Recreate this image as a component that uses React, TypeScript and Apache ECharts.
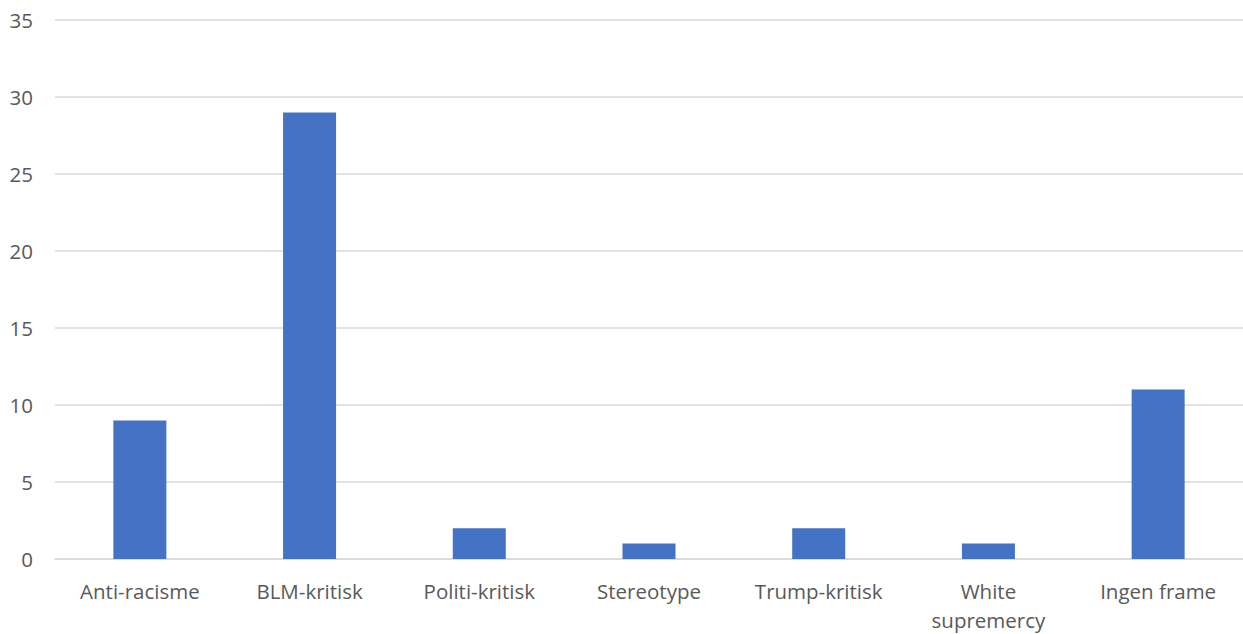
import React, { useEffect, useRef } from "react";
import * as echarts from "echarts";

const categories = ["Anti-racisme", "BLM-kritisk", "Politi-kritisk", "Stereotype", "Trump-kritisk", "White\nsupremercy", "Ingen frame"];
const values = [9, 29, 2, 1, 2, 1, 11];
const yTicks = { min: 0, max: 35, interval: 5 };

export default function App() {
  const ref = useRef<HTMLDivElement>(null);
  useEffect(() => {
    if (!ref.current) return;
    const chart = echarts.init(ref.current, undefined, { renderer: "svg" });
    chart.setOption({
      animation: false,
      backgroundColor: "#ffffff",
      grid: { left: 55, top: 20, width: 1191, height: 542.5, containLabel: false },
      xAxis: {
        type: "category",
        data: categories,
        axisLine: { show: true, lineStyle: { color: "#d9d9d9", width: 1.5 } },
        axisTick: { show: false },
        axisLabel: {
          color: "#595959",
          fontFamily: "'Open Sans', sans-serif",
          fontSize: 20.5,
          lineHeight: 29,
          margin: 17,
          interval: 0,
        },
      },
      yAxis: {
        type: "value",
        min: yTicks.min,
        max: yTicks.max,
        interval: yTicks.interval,
        axisLine: { show: false },
        axisTick: { show: false },
        splitLine: { lineStyle: { color: "#d9d9d9", width: 1.5 } },
        axisLabel: {
          color: "#595959",
          fontFamily: "'Open Sans', sans-serif",
          fontSize: 20.5,
          margin: 22,
        },
      },
      series: [
        {
          type: "bar",
          data: values,
          barWidth: 53,
          itemStyle: { color: "#4472c4" },
        },
      ],
    });
    return () => chart.dispose();
  }, []);
  return (
    <div
      ref={ref}
      style={{ position: "fixed", left: 0, top: 0, width: 1243, height: 634, background: "#fff" }}
    />
  );
}
